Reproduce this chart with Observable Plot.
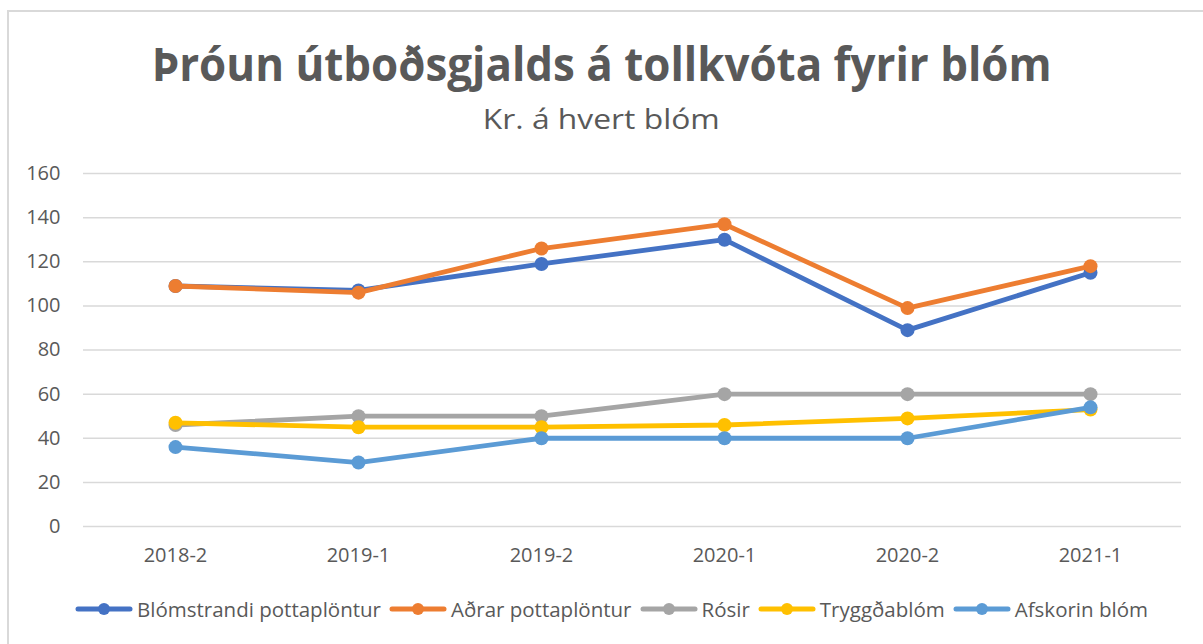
<!DOCTYPE html>
<html>
<head>
<meta charset="utf-8">
<script src="https://cdn.jsdelivr.net/npm/d3@7"></script>
<script src="https://cdn.jsdelivr.net/npm/@observablehq/plot@0.6"></script>
<style>
  html, body { margin: 0; padding: 0; background: #fff; }
  body { width: 1203px; height: 644px; overflow: hidden; position: relative; font-family: "Open Sans", sans-serif; color: #595959; }
  #frame { position: absolute; left: 7px; top: 10px; width: 1220px; height: 660px; border-left: 2px solid #d9d9d9; border-top: 2px solid #d9d9d9; }
  #title { position: absolute; top: 35px; left: 0; width: 1203px; text-align: center; }
  #title span { display: inline-block; font-weight: 700; font-size: 46px; line-height: 56px; transform-origin: center; }
  #subtitle { position: absolute; top: 101px; left: 0; width: 1203px; text-align: center; }
  #subtitle span { display: inline-block; font-size: 28px; line-height: 34px; transform-origin: center; }
  #chart { position: absolute; left: 0; top: 150px; }
  #legend { position: absolute; top: 595px; left: 14px; width: 1203px; display: flex; justify-content: center; align-items: center; }
  .item { display: flex; align-items: center; margin-right: 8px; }
  .item span { font-size: 20.5px; line-height: 28px; margin-left: 4px; display: inline-block; }
</style>
</head>
<body>
<div id="frame"></div>
<div id="title"><span>Þróun útboðsgjalds á tollkvóta fyrir blóm</span></div>
<div id="subtitle"><span>Kr. á hvert blóm</span></div>
<div id="chart"></div>
<div id="legend"></div>
<script>
const periods = ["2018-2", "2019-1", "2019-2", "2020-1", "2020-2", "2021-1"];
const seriesNames = ["Blómstrandi pottaplöntur", "Aðrar pottaplöntur", "Rósir", "Tryggðablóm", "Afskorin blóm"];
const seriesColors = ["#4472C4", "#ED7D31", "#A5A5A5", "#FFC000", "#5B9BD5"];
const blomstrandi = [109, 107, 119, 130, 89, 115];
const adrar = [109, 106, 126, 137, 99, 118];
const rosir = [46, 50, 50, 60, 60, 60];
const tryggdablom = [47, 45, 45, 46, 49, 53];
const afskorin = [36, 29, 40, 40, 40, 54];
const yTicks = [0, 20, 40, 60, 80, 100, 120, 140, 160];

const seriesValues = [blomstrandi, adrar, rosir, tryggdablom, afskorin];
const data = [];
seriesNames.forEach((name, i) => {
  periods.forEach((p, j) => data.push({series: name, period: p, value: seriesValues[i][j]}));
});

const chart = Plot.plot({
  width: 1203,
  height: 426,
  marginTop: 23,
  marginBottom: 50,
  marginLeft: 83,
  marginRight: 22,
  style: {fontFamily: "Open Sans, sans-serif", fontSize: "20px", color: "#595959", background: "transparent"},
  x: {type: "point", domain: periods, padding: 0.5, label: null},
  y: {domain: [0, 160], label: null},
  color: {domain: seriesNames, range: seriesColors},
  marks: [
    Plot.ruleY(yTicks, {stroke: "#d9d9d9", strokeWidth: 1.5}),
    Plot.axisY({ticks: yTicks, tickSize: 0, tickPadding: 23, label: null, fill: "#595959", fontSize: 20}),
    Plot.axisX({tickSize: 0, tickPadding: 21, label: null, fill: "#595959", fontSize: 20}),
    ...seriesNames.flatMap(name => {
      const rows = data.filter(d => d.series === name);
      return [
        Plot.line(rows, {x: "period", y: "value", stroke: "series", strokeWidth: 4.8, strokeLinejoin: "round", strokeLinecap: "round"}),
        Plot.dot(rows, {x: "period", y: "value", fill: "series", r: 7, stroke: "none"})
      ];
    })
  ]
});
document.getElementById("chart").appendChild(chart);

// Legend
const legend = document.getElementById("legend");
seriesNames.forEach((name, i) => {
  const item = document.createElement("div");
  item.className = "item";
  item.innerHTML = `<svg width="58" height="16"><line x1="3" y1="8" x2="55" y2="8" stroke="${seriesColors[i]}" stroke-width="5" stroke-linecap="round"/><circle cx="29" cy="8" r="6" fill="${seriesColors[i]}"/></svg><span>${name}</span>`;
  legend.appendChild(item);
});

// narrow the headline text to the reference's Calibri-like widths
function fit(sel, w) {
  const el = document.querySelector(sel);
  const cw = el.getBoundingClientRect().width;
  el.style.transform = `scaleX(${w / cw})`;
}
fit("#title span", 900);
fit("#subtitle span", 237);
</script>
</body>
</html>
